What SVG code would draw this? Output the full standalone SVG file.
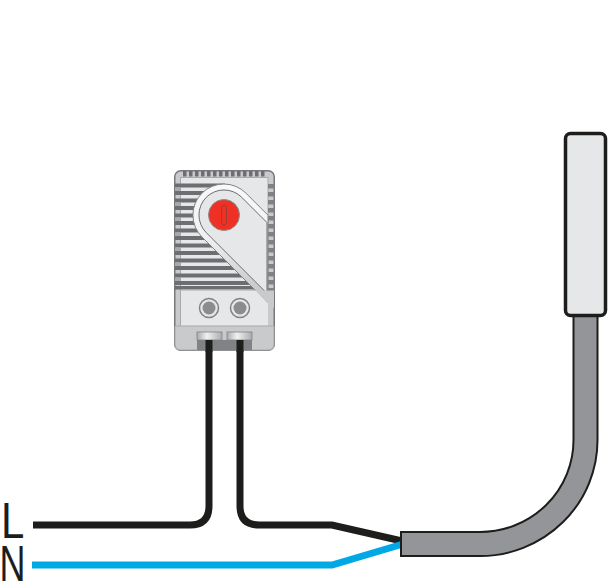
<svg xmlns="http://www.w3.org/2000/svg" width="608" height="581" viewBox="0 0 608 581">
<defs>
<linearGradient id="term" x1="0" y1="0" x2="1" y2="0"><stop offset="0" stop-color="#a9abad"/><stop offset="0.4" stop-color="#f1f1f2"/><stop offset="1" stop-color="#a9abad"/></linearGradient>
<linearGradient id="band" x1="0" y1="0" x2="0" y2="1"><stop offset="0" stop-color="#f9f9f9"/><stop offset="0.45" stop-color="#f1f1f2"/><stop offset="1" stop-color="#bcbec0"/></linearGradient>
</defs>
<style>
.wire{fill:none;stroke:#1d1d1b;stroke-width:7}
.fin{fill:#6d6e71}
.fin2{fill:#808285}
.lbl{font-family:"Liberation Sans",Arial,sans-serif;font-size:50px;fill:#1d1d1b}
</style>
<rect width="608" height="581" fill="#fff"/>
<g id="connectors">
<path class="wire" d="M33 525H190Q209 525 209 506V340"/>
<path class="wire" d="M240 340V506Q240 525 259 525H332L402 541"/>
<path fill="none" stroke="#00a9e6" stroke-width="7" d="M32 565H332L403 544"/>
</g>
<g id="cable">
<path fill="none" stroke="#1d1d1b" stroke-width="26" d="M400 544H480A105.500 104 0 0 0 585.500 440V316"/>
<path fill="none" stroke="#939598" stroke-width="22" d="M402 544H480A105.500 104 0 0 0 585.500 440V316"/>
</g>
<g id="sensor">
<rect x="565.500" y="133.500" width="40" height="182" rx="5" fill="#e6e7e8" stroke="#1d1d1b" stroke-width="3.500"/>
</g>
<g id="thermostat">
<rect x="174.750" y="170.750" width="99.500" height="179.500" rx="6" fill="#c9cacc" stroke="#77787b" stroke-width="1.500"/>
<path fill="#6d6e71" d="M183 171h3.500v5.500h-3.500zM189 171h3.500v5.500h-3.500zM195 171h3.500v5.500h-3.500zM201 171h3.500v5.500h-3.500zM207 171h3.500v5.500h-3.500zM213 171h3.500v5.500h-3.500zM219 171h3.500v5.500h-3.500zM225 171h3.500v5.500h-3.500zM231 171h3.500v5.500h-3.500zM237 171h3.500v5.500h-3.500zM243 171h3.500v5.500h-3.500zM249 171h3.500v5.500h-3.500zM255 171h3.500v5.500h-3.500zM261 171h3.500v5.500h-3.500z"/>
<rect x="180.500" y="177.500" width="87.500" height="113" fill="#e6e7e8" stroke="#a7a9ac"/>
<path class="fin" d="M175 183.500h50v4h-50zM175 191h50v4h-50zM175 198.500h50v4h-50zM175 206h50v4h-50zM175 213.500h50v4h-50zM175 221h50v4h-50zM175 228.500h50v4h-50zM175 236h50v4h-50zM175 243.500h60v4h-60zM175 251h60v4h-60zM175 258.500h70v4h-70zM175 266h80v4h-80zM175 273.500h85v4h-85zM175 281h90v4h-90zM175 286h93v3.500h-93z"/>
<path d="M175 187.500h6v3.500h-6zM175 202.500h6v3.500h-6zM175 217.500h6v3.500h-6zM175 232.500h6v3.500h-6zM175 247.500h6v3.500h-6zM175 262.500h6v3.500h-6zM175 277.500h6v3.500h-6z" fill="#a7a9ac"/>
<path class="fin2" d="M268 184h6.500v4.500h-6.500zM268 192h6.500v4.500h-6.500zM268 200h6.500v4.500h-6.500zM268 208h6.500v4.500h-6.500zM268 216h6.500v4.500h-6.500zM268 224h6.500v4.500h-6.500zM268 232h6.500v4.500h-6.500zM268 240h6.500v4.500h-6.500zM268 248h6.500v4.500h-6.500zM268 256h6.500v4.500h-6.500zM268 264h6.500v4.500h-6.500zM268 272h6.500v4.500h-6.500zM268 280h6.500v4.500h-6.500zM268 288h6.500v3h-6.500z"/>
<path d="M268 215.200L245.900 193.100A31 31 0 1 0 202 237L268 303Z" fill="url(#band)" stroke="#808285"/>
<path d="M267 222.600L241.700 197.300A25 25 0 1 0 206.300 232.700L267 293.400Z" fill="#e6e7e8" stroke="#6d6e71"/>
<path d="M181 290.500H256L268 303V326H181Z" fill="#e6e7e8"/>
<path d="M256 290.500L268 303L274 308V290.500Z" fill="#c9cacc"/>
<path d="M175 326H274V344Q274 350 268 350H181Q175 350 175 344Z" fill="#c9cacc" stroke="#a7a9ac"/>
<path d="M180.500 290V326" stroke="#a7a9ac" fill="none"/>
<circle cx="224" cy="215" r="15.500" fill="#ee3124" stroke="#8a8c8e"/>
<rect x="221.500" y="205" width="5" height="20" rx="2.500" fill="none" stroke="#a33a32"/>
<circle cx="209" cy="308" r="9.500" fill="#e6e7e8" stroke="#808285" stroke-width="1.500"/>
<circle cx="209" cy="308" r="6.500" fill="#8a8c8e"/>
<circle cx="240" cy="308" r="9.500" fill="#e6e7e8" stroke="#808285" stroke-width="1.500"/>
<circle cx="240" cy="308" r="6.500" fill="#8a8c8e"/>
<rect x="197" y="340" width="55" height="10" fill="#808285"/>
<rect x="197" y="332" width="25" height="8" fill="url(#term)" stroke="#808285" stroke-width="0.800"/>
<rect x="227" y="332" width="25" height="8" fill="url(#term)" stroke="#808285" stroke-width="0.800"/>
<rect x="205.500" y="340" width="7" height="12" fill="#1d1d1b"/>
<rect x="236.500" y="340" width="7" height="12" fill="#1d1d1b"/>
</g>
<g id="labels">
<text class="lbl" transform="translate(1 538) scale(0.84 1)">L</text>
<text class="lbl" transform="translate(-0.500 581) scale(0.72 1)">N</text>
</g>
</svg>
